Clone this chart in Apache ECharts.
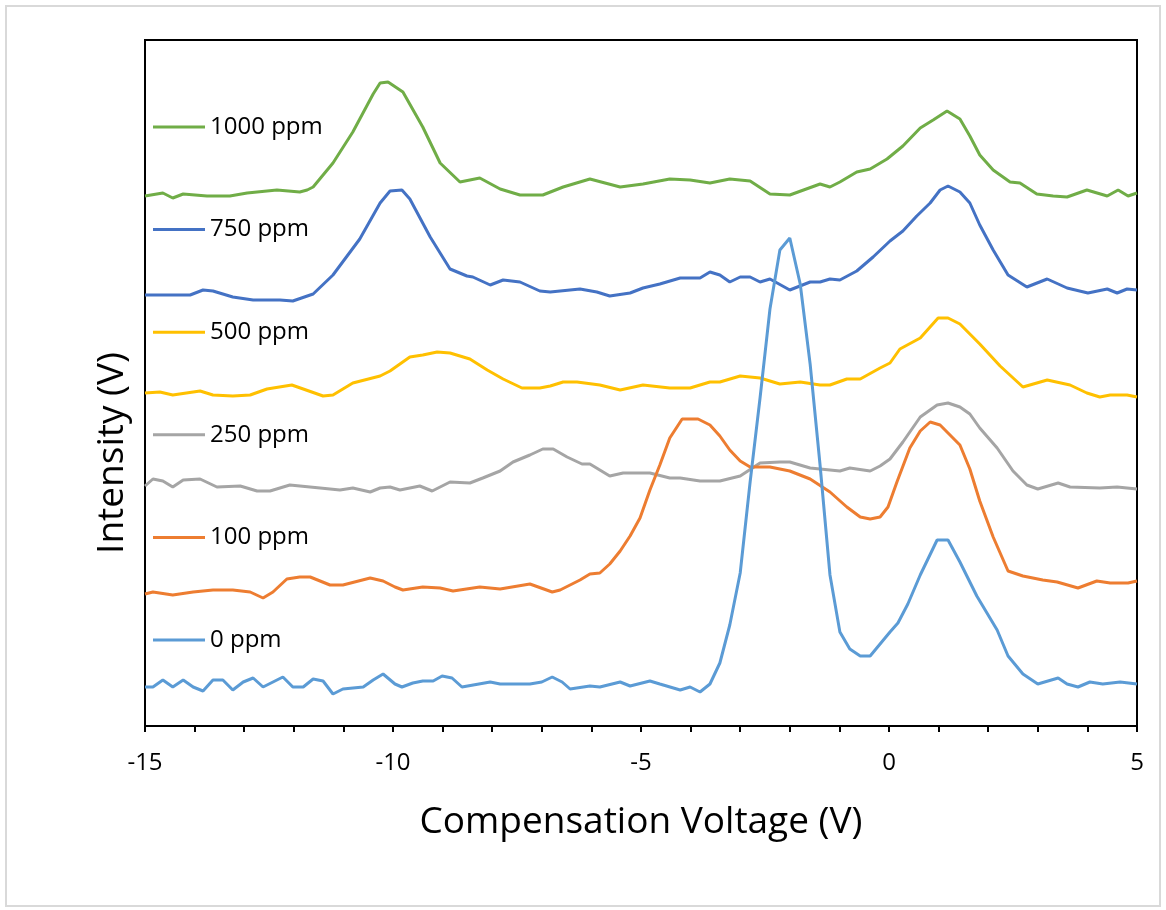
<!DOCTYPE html>
<html>
<head>
<meta charset="utf-8">
<title>Compensation Voltage</title>
<script src="https://cdn.jsdelivr.net/npm/echarts@6/dist/echarts.min.js"></script>
<style>
  html, body { margin: 0; padding: 0; background: #fff; }
  #chart { width: 1166px; height: 910px; }
</style>
</head>
<body>
<div id="chart"></div>
<script>
// series names, top to bottom as in the legend
var seriesNames = ["1000 ppm", "750 ppm", "500 ppm", "250 ppm", "100 ppm", "0 ppm"];
var seriesColors = ["#70AD47", "#4472C4", "#FFC000", "#A5A5A5", "#ED7D31", "#5B9BD5"];

// [compensation voltage (V), intensity (arb.)]
var ppm1000 = [[-15,5.30],[-14.64,5.33],[-14.44,5.28],[-14.23,5.32],[-13.75,5.30],[-13.29,5.30],[-12.94,5.33],[-12.34,5.36],[-11.88,5.34],[-11.73,5.36],[-11.61,5.39],[-11.21,5.63],[-10.81,5.94],[-10.40,6.32],[-10.26,6.43],[-10.10,6.44],[-9.80,6.34],[-9.40,5.99],[-9.05,5.63],[-8.65,5.44],[-8.25,5.48],[-7.84,5.37],[-7.44,5.31],[-6.98,5.31],[-6.57,5.39],[-6.03,5.47],[-5.42,5.39],[-4.96,5.42],[-4.42,5.47],[-4.01,5.46],[-3.61,5.43],[-3.21,5.47],[-2.80,5.45],[-2.40,5.32],[-2.00,5.31],[-1.39,5.42],[-1.19,5.39],[-0.99,5.44],[-0.65,5.54],[-0.38,5.57],[-0.04,5.67],[0.28,5.80],[0.63,5.98],[0.89,6.06],[1.17,6.15],[1.43,6.07],[1.63,5.90],[1.83,5.71],[2.10,5.56],[2.44,5.44],[2.64,5.43],[2.98,5.32],[3.31,5.30],[3.59,5.29],[3.99,5.36],[4.40,5.30],[4.62,5.36],[4.82,5.30],[5,5.33]];

var ppm750 = [[-15,4.31],[-14.09,4.31],[-13.83,4.36],[-13.63,4.35],[-13.23,4.29],[-12.82,4.26],[-12.28,4.26],[-12.02,4.25],[-11.61,4.32],[-11.21,4.51],[-10.67,4.87],[-10.26,5.23],[-10.06,5.35],[-9.82,5.36],[-9.66,5.27],[-9.25,4.89],[-8.85,4.57],[-8.51,4.50],[-8.39,4.49],[-8.04,4.41],[-7.78,4.46],[-7.44,4.44],[-7.04,4.35],[-6.83,4.34],[-6.23,4.37],[-5.89,4.34],[-5.63,4.30],[-5.22,4.33],[-4.96,4.38],[-4.62,4.42],[-4.21,4.48],[-3.81,4.48],[-3.61,4.54],[-3.41,4.51],[-3.21,4.44],[-3.00,4.49],[-2.80,4.49],[-2.60,4.44],[-2.40,4.47],[-2.00,4.36],[-1.59,4.44],[-1.39,4.44],[-1.19,4.47],[-0.99,4.46],[-0.65,4.55],[-0.32,4.69],[0.02,4.85],[0.28,4.95],[0.56,5.10],[0.83,5.23],[1.03,5.36],[1.19,5.40],[1.43,5.34],[1.63,5.23],[1.83,5.01],[2.10,4.76],[2.40,4.51],[2.78,4.39],[3.19,4.47],[3.59,4.38],[4.01,4.33],[4.40,4.37],[4.60,4.33],[4.80,4.37],[5,4.36]];

var ppm500 = [[-15,3.33],[-14.70,3.34],[-14.44,3.31],[-13.89,3.35],[-13.63,3.31],[-13.23,3.30],[-12.88,3.31],[-12.54,3.37],[-12.04,3.41],[-11.81,3.37],[-11.41,3.30],[-11.21,3.31],[-10.81,3.43],[-10.26,3.50],[-10.06,3.55],[-9.66,3.69],[-9.40,3.71],[-9.11,3.74],[-8.85,3.73],[-8.45,3.67],[-8.10,3.56],[-7.78,3.47],[-7.40,3.38],[-7.04,3.38],[-6.83,3.40],[-6.57,3.44],[-6.29,3.44],[-5.83,3.41],[-5.42,3.36],[-4.96,3.41],[-4.42,3.38],[-4.01,3.38],[-3.61,3.44],[-3.41,3.44],[-3.00,3.50],[-2.60,3.48],[-2.20,3.42],[-1.79,3.44],[-1.39,3.41],[-1.19,3.41],[-0.85,3.47],[-0.58,3.47],[-0.18,3.58],[0.02,3.63],[0.22,3.77],[0.63,3.88],[0.99,4.08],[1.19,4.08],[1.43,4.02],[1.83,3.82],[2.24,3.60],[2.70,3.39],[3.19,3.46],[3.65,3.41],[3.99,3.33],[4.25,3.29],[4.46,3.31],[4.80,3.31],[5,3.29]];

var ppm250 = [[-15,2.40],[-14.84,2.47],[-14.64,2.45],[-14.44,2.39],[-14.23,2.46],[-13.89,2.47],[-13.55,2.39],[-13.08,2.40],[-12.74,2.35],[-12.48,2.35],[-12.08,2.41],[-11.47,2.38],[-11.07,2.36],[-10.81,2.38],[-10.46,2.34],[-10.26,2.38],[-10.06,2.39],[-9.86,2.36],[-9.46,2.40],[-9.21,2.35],[-8.85,2.44],[-8.45,2.43],[-8.19,2.48],[-7.84,2.55],[-7.58,2.64],[-7.24,2.71],[-6.98,2.77],[-6.77,2.77],[-6.49,2.69],[-6.19,2.62],[-6.03,2.62],[-5.63,2.50],[-5.36,2.53],[-4.82,2.53],[-4.42,2.48],[-4.21,2.48],[-3.81,2.45],[-3.41,2.45],[-3.00,2.50],[-2.60,2.63],[-2.20,2.64],[-2.00,2.64],[-1.59,2.58],[-1.39,2.57],[-0.99,2.55],[-0.79,2.58],[-0.38,2.55],[-0.18,2.60],[0.02,2.67],[0.28,2.84],[0.63,3.09],[0.97,3.21],[1.19,3.23],[1.43,3.19],[1.63,3.12],[1.83,2.98],[2.18,2.78],[2.50,2.55],[2.78,2.41],[3.00,2.37],[3.41,2.43],[3.65,2.39],[4.25,2.38],[4.60,2.39],[5,2.37]];

var ppm100 = [[-15,1.32],[-14.84,1.34],[-14.44,1.31],[-14.03,1.34],[-13.63,1.36],[-13.23,1.36],[-12.88,1.34],[-12.62,1.28],[-12.42,1.34],[-12.14,1.47],[-11.88,1.49],[-11.67,1.49],[-11.27,1.41],[-11.01,1.41],[-10.46,1.48],[-10.20,1.45],[-9.96,1.39],[-9.80,1.36],[-9.40,1.39],[-9.05,1.38],[-8.79,1.35],[-8.25,1.39],[-7.84,1.37],[-7.24,1.42],[-6.79,1.34],[-6.63,1.36],[-6.23,1.46],[-6.03,1.52],[-5.83,1.53],[-5.63,1.62],[-5.42,1.75],[-5.22,1.90],[-5.02,2.08],[-4.82,2.36],[-4.62,2.61],[-4.42,2.88],[-4.17,3.07],[-3.85,3.07],[-3.61,3.01],[-3.41,2.90],[-3.21,2.76],[-3.00,2.65],[-2.80,2.59],[-2.40,2.59],[-2.00,2.55],[-1.59,2.47],[-1.19,2.34],[-0.85,2.19],[-0.58,2.09],[-0.38,2.07],[-0.18,2.09],[-0.02,2.19],[0.16,2.44],[0.42,2.78],[0.63,2.95],[0.83,3.04],[1.03,3.01],[1.43,2.81],[1.63,2.57],[1.83,2.25],[2.10,1.89],[2.40,1.55],[2.70,1.50],[3.10,1.46],[3.39,1.44],[3.81,1.38],[4.19,1.45],[4.46,1.43],[4.82,1.43],[5,1.45]];

var ppm0 = [[-15,0.39],[-14.84,0.39],[-14.64,0.46],[-14.44,0.39],[-14.23,0.46],[-14.03,0.39],[-13.83,0.35],[-13.63,0.46],[-13.43,0.46],[-13.23,0.36],[-13.02,0.44],[-12.82,0.48],[-12.62,0.39],[-12.42,0.44],[-12.22,0.49],[-12.02,0.39],[-11.81,0.39],[-11.61,0.47],[-11.41,0.45],[-11.21,0.32],[-11.01,0.37],[-10.60,0.39],[-10.40,0.46],[-10.20,0.52],[-9.96,0.42],[-9.82,0.39],[-9.60,0.43],[-9.40,0.45],[-9.19,0.45],[-9.01,0.50],[-8.81,0.48],[-8.61,0.39],[-8.04,0.44],[-7.84,0.42],[-7.24,0.42],[-7.00,0.44],[-6.79,0.49],[-6.59,0.44],[-6.43,0.37],[-6.03,0.40],[-5.83,0.39],[-5.42,0.44],[-5.22,0.40],[-4.82,0.45],[-4.62,0.42],[-4.21,0.36],[-4.01,0.39],[-3.81,0.34],[-3.61,0.42],[-3.41,0.63],[-3.21,1.01],[-3.00,1.53],[-2.80,2.44],[-2.60,3.28],[-2.40,4.17],[-2.20,4.76],[-2.00,4.88],[-1.79,4.42],[-1.59,3.62],[-1.39,2.61],[-1.19,1.51],[-0.99,0.94],[-0.79,0.77],[-0.58,0.70],[-0.38,0.70],[-0.18,0.82],[0.02,0.94],[0.18,1.03],[0.38,1.22],[0.63,1.51],[0.97,1.86],[1.19,1.86],[1.43,1.64],[1.77,1.30],[2.18,0.96],[2.40,0.70],[2.70,0.52],[3.00,0.42],[3.41,0.48],[3.59,0.42],[3.81,0.39],[4.05,0.44],[4.31,0.42],[4.66,0.44],[5,0.42]];

var seriesData = [ppm1000, ppm750, ppm500, ppm250, ppm100, ppm0];

var xLabels = [-15, -10, -5, 0, 5];

var chart = echarts.init(document.getElementById("chart"));

var series = seriesNames.map(function (name, i) {
  return {
    name: name,
    type: "line",
    data: seriesData[i],
    showSymbol: false,
    symbol: "none",
    smooth: false,
    lineStyle: { color: seriesColors[i], width: 3 },
    itemStyle: { color: seriesColors[i] },
    z: 2 + i
  };
});

var option = {
  backgroundColor: "#fff",
  animation: false,
  graphic: [
    {
      type: "rect",
      shape: { x: 6, y: 6, width: 1154, height: 900 },
      style: { fill: "none", stroke: "#d9d9d9", lineWidth: 2 },
      silent: true
    }
  ],
  legend: {
    orient: "vertical",
    left: 153,
    top: 113,
    padding: 0,
    data: seriesNames,
    icon: "rect",
    itemWidth: 52,
    itemHeight: 3,
    itemGap: 74.6,
    textStyle: {
      fontFamily: "Open Sans",
      fontSize: 24,
      color: "#000",
      lineHeight: 28
    }
  },
  grid: {
    left: 145,
    right: 29,
    top: 40,
    bottom: 184,
    show: true,
    borderColor: "#000",
    borderWidth: 2
  },
  xAxis: {
    type: "value",
    min: -15,
    max: 5,
    interval: 1,
    name: "Compensation Voltage (V)",
    nameLocation: "middle",
    nameGap: 78,
    nameTextStyle: { fontFamily: "Open Sans", fontSize: 37, color: "#000" },
    axisLine: { show: true, onZero: false, lineStyle: { color: "#000", width: 2 } },
    axisTick: { show: true, length: 6, lineStyle: { color: "#000", width: 2 } },
    axisLabel: {
      margin: 25,
      fontFamily: "Open Sans",
      fontSize: 24,
      color: "#000",
      formatter: function (v) {
        return xLabels.indexOf(v) >= 0 ? String(v) : "";
      }
    },
    splitLine: { show: false }
  },
  yAxis: {
    type: "value",
    min: 0,
    max: 6.86,
    name: "Intensity (V)",
    nameLocation: "middle",
    nameGap: 14,
    nameTextStyle: {
      fontFamily: "Open Sans",
      fontSize: 37,
      color: "#000",
      padding: [0, 140, 0, 0]
    },
    axisLine: { show: true, onZero: false, lineStyle: { color: "#000", width: 2 } },
    axisTick: { show: false },
    axisLabel: { show: false },
    splitLine: { show: false }
  },
  series: series
};

chart.setOption(option);
</script>
</body>
</html>
